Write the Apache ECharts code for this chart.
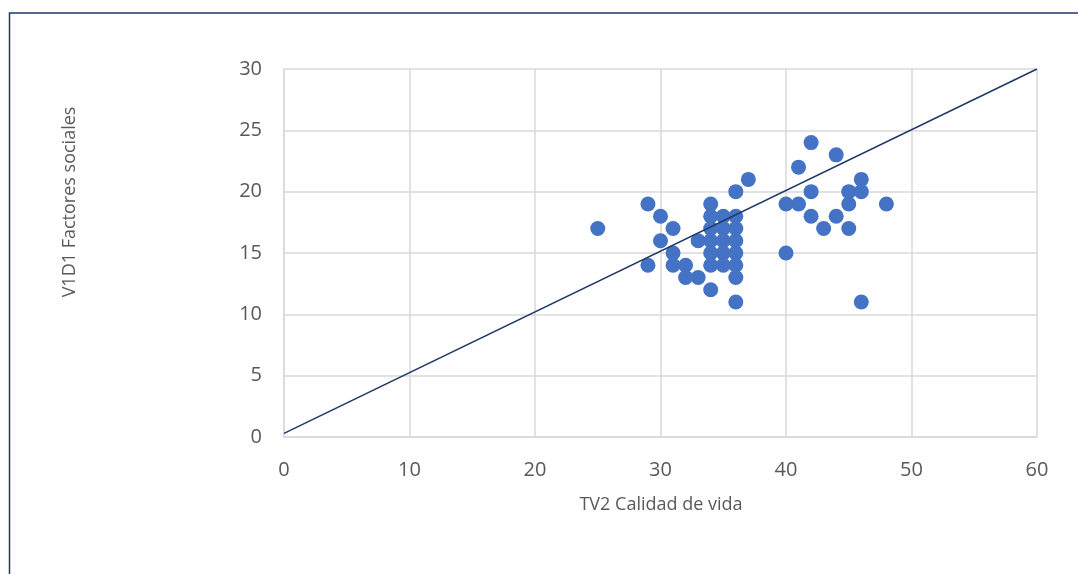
<!DOCTYPE html>
<html><head><meta charset="utf-8">
<script src="https://cdn.jsdelivr.net/npm/echarts@6/dist/echarts.min.js"></script>
<style>html,body{margin:0;padding:0;background:#fff}#c{width:1078px;height:574px}</style>
</head><body><div id="c"></div>
<script>
const xValues = [25,29,29,30,30,31,31,31,32,32,33,33,34,34,34,34,34,34,34,35,35,35,35,35,36,36,36,36,36,36,36,36,37,40,40,41,41,42,42,42,43,44,44,45,45,45,46,46,46,48];
const yValues = [17,19,14,18,16,17,15,14,14,13,16,13,19,18,17,16,15,14,12,18,17,16,15,14,20,18,17,16,15,14,13,11,21,19,15,22,19,24,20,18,17,23,18,20,19,17,21,20,11,19];
const trendX = [0, 60];
const trendY = [0.3, 30];
const xTicks = [0,10,20,30,40,50,60];
const yTicks = [0,5,10,15,20,25,30];
const xTitle = 'TV2 Calidad de vida';
const yTitle = 'V1D1 Factores sociales';

const chart = echarts.init(document.getElementById('c'), null, {renderer:'canvas'});
const font = "'Open Sans', 'Liberation Sans', sans-serif";
chart.setOption({
  animation:false,
  grid:{left:284, right:41, top:69, bottom:137},
  xAxis:{type:'value', min:xTicks[0], max:xTicks[xTicks.length-1], interval:10,
    axisLine:{show:true, lineStyle:{color:'#d9d9d9', width:1.5}}, axisTick:{show:false},
    splitLine:{show:true, lineStyle:{color:'#d9d9d9', width:1.5}},
    axisLabel:{color:'#595959', fontSize:20, fontFamily:font, margin:23}},
  yAxis:{type:'value', min:yTicks[0], max:yTicks[yTicks.length-1], interval:5,
    axisLine:{show:true, lineStyle:{color:'#d9d9d9', width:1.5}}, axisTick:{show:false},
    splitLine:{show:true, lineStyle:{color:'#d9d9d9', width:1.5}},
    axisLabel:{color:'#595959', fontSize:20, fontFamily:font, margin:22}},
  graphic:[
    {type:'polyline', shape:{points:[[9.5,600],[9.5,13],[1100,13]]}, style:{stroke:'#1f3864', lineWidth:1.5, fill:null}},
    {type:'text', x:661, y:505, style:{text:xTitle, fill:'#595959', font:'18px '+font, textAlign:'center', textVerticalAlign:'middle'}},
    {type:'text', x:70, y:202, rotation:Math.PI/2, style:{text:yTitle, fill:'#595959', font:'18px '+font, textAlign:'center', textVerticalAlign:'middle'}}
  ],
  series:[
    {type:'scatter', symbol:'circle', symbolSize:15, itemStyle:{color:'#4472c4', opacity:1},
     data:xValues.map((x,i)=>[x,yValues[i]]), z:2},
    {type:'line', data:trendX.map((x,i)=>[x,trendY[i]]), symbol:'none',
     lineStyle:{color:'#1f3864', width:1.5}, z:3}
  ]
});
</script></body></html>
